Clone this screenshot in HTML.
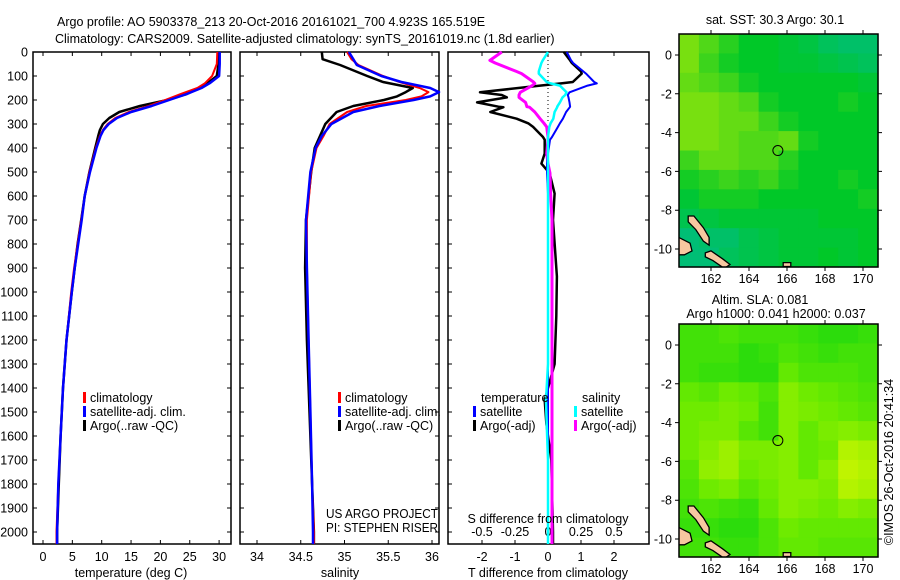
<!DOCTYPE html>
<html><head><meta charset="utf-8">
<style>
html,body{margin:0;padding:0;background:#fff;}
svg{display:block;font-family:"Liberation Sans",sans-serif;}
text{font-size:12.5px;fill:#000;}
</style></head>
<body>
<svg id="fig" width="900" height="580" viewBox="0 0 900 580" xmlns="http://www.w3.org/2000/svg">
<defs>
<clipPath id="c1"><rect x="679" y="34" width="199" height="233"/></clipPath>
<clipPath id="c2"><rect x="679" y="324" width="199" height="233"/></clipPath>
</defs>
<text x="57" y="26">Argo profile: AO 5903378_213 20-Oct-2016 20161021_700 4.923S 165.519E</text>
<text x="55" y="43">Climatology: CARS2009. Satellite-adjusted climatology: synTS_20161019.nc (1.8d earlier)</text>
<g id="g1"></g>
<g id="g2"></g>
<g id="g3"></g>
<g id="m1"></g>
<g id="m2"></g>
<text transform="translate(893,462) rotate(-90)" text-anchor="middle">©IMOS 26-Oct-2016 20:41:34</text>
</svg>
<script>
// ---- data ----
const depthTicks=[0,100,200,300,400,500,600,700,800,900,1000,1100,1200,1300,1400,1500,1600,1700,1800,1900,2000];
const tempTicks=[0,5,10,15,20,25,30];
const salTicks=[34,34.5,35,35.5,36];
const tdiffTicks=[-2,-1,0,1,2];
const sdiffTicks=[-0.5,-0.25,0,0.25,0.5];
const sdiffTickLabels=["-0.5","-0.25","0","0.25","0.5"];

const tDepth=[0,50,100,130,150,175,200,225,250,275,300,325,350,400,500,600,700,800,900,1000,1200,1400,1600,1800,2000,2050];
const tClim =[29.7,29.6,28.8,27.6,26.3,23.5,20.8,18.0,14.6,12.3,11.0,10.2,9.7,9.0,7.9,7.1,6.5,5.9,5.3,4.8,4.0,3.4,3.0,2.6,2.3,2.3];
const tSat  =[30.1,30.1,30.0,28.4,27.0,24.5,21.5,18.5,15.0,12.6,11.2,10.3,9.8,9.1,8.0,7.1,6.6,6.0,5.4,4.9,4.0,3.4,3.0,2.6,2.4,2.4];
const tArgo =[30.0,29.9,29.6,28.0,26.6,24.5,21.2,16.5,13.0,11.3,10.2,9.7,9.4,8.9,7.9,7.1,6.5,5.9,5.4,4.9,4.0,3.4,3.0,2.7,2.4,2.4];

const sDepth=[0,30,54,100,125,150,167,185,200,225,250,300,350,400,500,700,900,1200,1500,1800,2000,2050];
const sClim =[35.03,35.08,35.16,35.44,35.63,35.86,35.96,35.88,35.70,35.25,35.03,34.83,34.76,34.68,34.62,34.57,34.57,34.59,34.61,34.63,34.65,34.65];
const sSat  =[35.05,35.10,35.14,35.42,35.65,35.98,36.08,35.98,35.79,35.40,35.10,34.85,34.74,34.67,34.61,34.56,34.57,34.59,34.61,34.63,34.64,34.64];
const sArgo =[34.74,34.75,34.95,35.26,35.44,35.78,35.70,35.60,35.45,35.10,34.91,34.78,34.72,34.66,34.62,34.56,34.55,34.57,34.60,34.63,34.65,34.65];

const dDepth=[0,35,46,81,90,125,131,140,168,179,189,210,228,230,250,278,297,312,354,366,423,465,505,590,700,935,1100,1300,1450,1550,1700,2000,2050];
const dTSat =[0.57,0.70,0.76,1.07,1.15,1.40,1.48,1.2,0.65,0.6,0.62,0.65,0.67,0.66,0.55,0.45,0.36,0.30,0.12,0.06,0.0,-0.03,-0.03,0.0,0.0,0.0,0.0,0.0,0.0,0.0,0.0,0.0,0.0];
const dTArgo=[0.48,0.67,0.72,1.00,1.02,0.75,0.40,-0.24,-2.06,-1.4,-1.25,-2.15,-1.5,-1.35,-1.75,-0.95,-0.6,-0.45,-0.15,-0.1,-0.1,-0.2,0.05,0.2,0.15,0.27,0.25,0.2,-0.1,-0.05,0.1,0.15,0.15];
const dSSat =[0.0,-0.04,-0.05,-0.07,-0.07,-0.01,0.02,0.09,0.14,0.13,0.11,0.09,0.07,0.07,0.05,0.04,0.02,0.01,0.0,0.0,0.0,0.0,0.0,0.0,0.0,0.0,0.0,0.0,-0.015,-0.01,0.0,0.0,0.0];
const dSArgo=[-0.35,-0.44,-0.40,-0.24,-0.20,-0.11,-0.10,-0.12,-0.21,-0.22,-0.22,-0.17,-0.16,-0.14,-0.10,-0.06,-0.03,-0.01,0.0,0.0,-0.01,0.0,0.015,0.02,0.03,0.03,0.03,0.03,0.03,0.03,0.03,0.03,0.03];

const mapLats=[0,-2,-4,-6,-8,-10];
const mapLons=[162,164,166,168,170];
const sstGrid=[
[0.8,0.7,0.6,0.5,0.5,0.45,0.4,0.3,0.25,0.25],
[0.8,0.65,0.55,0.5,0.5,0.45,0.45,0.4,0.35,0.3],
[0.75,0.7,0.65,0.55,0.5,0.5,0.5,0.5,0.5,0.45],
[0.8,0.8,0.75,0.7,0.55,0.5,0.5,0.5,0.55,0.5],
[0.8,0.8,0.75,0.75,0.65,0.55,0.5,0.5,0.5,0.5],
[0.8,0.8,0.75,0.7,0.7,0.75,0.55,0.5,0.5,0.5],
[0.65,0.75,0.75,0.7,0.7,0.6,0.5,0.5,0.5,0.5],
[0.55,0.6,0.65,0.6,0.65,0.55,0.5,0.5,0.55,0.5],
[0.45,0.55,0.55,0.55,0.5,0.5,0.5,0.5,0.5,0.55],
[0.35,0.4,0.45,0.45,0.45,0.45,0.45,0.5,0.5,0.5],
[0.2,0.25,0.25,0.35,0.4,0.45,0.45,0.45,0.45,0.5],
[0.2,0.2,0.3,0.35,0.4,0.45,0.45,0.5,0.45,0.5]];
const slaGrid=[
[0.3,0.3,0.35,0.3,0.3,0.3,0.25,0.2,0.2,0.25],
[0.3,0.3,0.3,0.2,0.25,0.35,0.3,0.25,0.3,0.3],
[0.3,0.25,0.25,0.2,0.2,0.45,0.35,0.35,0.35,0.3],
[0.45,0.4,0.5,0.45,0.35,0.6,0.5,0.45,0.4,0.35],
[0.5,0.5,0.55,0.5,0.3,0.6,0.55,0.5,0.45,0.4],
[0.5,0.55,0.55,0.4,0.3,0.6,0.45,0.55,0.6,0.55],
[0.5,0.6,0.7,0.55,0.55,0.6,0.45,0.5,0.8,0.75],
[0.4,0.65,0.7,0.5,0.55,0.6,0.45,0.6,0.85,0.8],
[0.35,0.5,0.55,0.4,0.5,0.6,0.6,0.55,0.8,0.75],
[0.3,0.35,0.3,0.25,0.45,0.6,0.55,0.5,0.6,0.55],
[0.25,0.25,0.2,0.2,0.35,0.5,0.45,0.45,0.45,0.45],
[0.3,0.3,0.25,0.25,0.35,0.45,0.45,0.4,0.4,0.4]];
const argoLon=165.519, argoLat=-4.923;

// ---- helpers ----
const NS="http://www.w3.org/2000/svg";
function mk(parent,tag,attrs,txt){const e=document.createElementNS(NS,tag);for(const k in attrs)e.setAttribute(k,attrs[k]);if(txt!==undefined)e.textContent=txt;parent.appendChild(e);return e;}
const TOP=52, BOT=544;
const yD=d=>TOP+d*0.24;

function panel(g,x0,x1,xs,xt,xtl,opts){
  const f=mk(g,'rect',{x:x0,y:TOP,width:x1-x0,height:BOT-TOP,fill:'none',stroke:'#000','stroke-width':1.5});
  
  
  depthTicks.forEach(d=>{
    const y=yD(d);
    const t=mk(g,'path',{d:`M${x0} ${y}h4M${x1} ${y}h-4`,stroke:'#000','stroke-width':1});
    
    
  });
  xt.forEach((v,i)=>{
    const x=xs(v);
    const t=mk(g,'path',{d:`M${x} ${BOT}v-4M${x} ${TOP}v4`,stroke:'#000','stroke-width':1});
    
    
    const l=mk(g,'text',{x:x,y:opts.labY,'text-anchor':'middle'},xtl?xtl[i]:String(v));
    
    
  });
}
function line(g,xs,depths,vals,color,w,name){
  const pts=depths.map((d,i)=>xs(vals[i]).toFixed(1)+','+yD(d).toFixed(1)).join(' ');
  const p=mk(g,'polyline',{points:pts,fill:'none',stroke:color,'stroke-width':w,'stroke-linejoin':'round'});
  
  
}
function legend(g,x,y,color,label,name){
  const r=mk(g,'rect',{x:x,y:y-10,width:3,height:11,fill:color});
  
  
  const t=mk(g,'text',{x:x+7,y:y},label);
  
  
}

// ---- panel 1 ----
const g1=document.getElementById('g1');
const xT=v=>43+v*5.87;
panel(g1,33,231,xT,tempTicks,null,{labY:561});
depthTicks.forEach(d=>{const l=mk(g1,'text',{x:28,y:yD(d)+4.5,'text-anchor':'end'},String(d));
  
  });
line(g1,xT,tDepth,tArgo,'#000',2.5,'temp-argo-line');
line(g1,xT,tDepth,tClim,'#f00',2,'temp-climatology-line');
line(g1,xT,tDepth,tSat,'#00f',2.5,'temp-satellite-line');
legend(g1,83,402,'#f00','climatology','legend-climatology');
legend(g1,83,416,'#00f','satellite-adj. clim.','legend-satellite');
legend(g1,83,430,'#000','Argo(..raw -QC)','legend-argo');
{const t=mk(g1,'text',{x:131,y:577,'text-anchor':'middle'},'temperature (deg C)');
}

// ---- panel 2 ----
const g2=document.getElementById('g2');
const xS=v=>257+(v-34)*87.5;
panel(g2,240,439,xS,salTicks,null,{labY:561});
line(g2,xS,sDepth,sArgo,'#000',2.5,'sal-argo-line');
line(g2,xS,sDepth,sClim,'#f00',2,'sal-climatology-line');
line(g2,xS,sDepth,sSat,'#00f',2.5,'sal-satellite-line');
legend(g2,338,402,'#f00','climatology','legend-climatology');
legend(g2,338,416,'#00f','satellite-adj. clim.','legend-satellite');
legend(g2,338,430,'#000','Argo(..raw -QC)','legend-argo');
{const t=mk(g2,'text',{x:326,y:518,textLength:112,lengthAdjust:'spacingAndGlyphs'},'US ARGO PROJECT');
const u=mk(g2,'text',{x:326,y:532,textLength:112,lengthAdjust:'spacingAndGlyphs'},'PI: STEPHEN RISER');
const w=mk(g2,'text',{x:340,y:577,'text-anchor':'middle'},'salinity');}

// ---- panel 3 ----
const g3=document.getElementById('g3');
const xTd=v=>548+v*33;
const xSd=v=>548+v*132;
panel(g3,448,649,xTd,tdiffTicks,null,{labY:561});
sdiffTicks.forEach((v,i)=>{const l=mk(g3,'text',{x:xSd(v),y:536,'text-anchor':'middle'},sdiffTickLabels[i]);
  });
{const z=mk(g3,'line',{x1:548,y1:TOP,x2:548,y2:yD(300),stroke:'#000','stroke-dasharray':'1 3','stroke-width':1});
}
line(g3,xTd,dDepth,dTArgo,'#000',2.5,'tdiff-argo-line');
line(g3,xSd,dDepth,dSArgo,'#f0f',3,'sdiff-argo-line');
line(g3,xTd,dDepth,dTSat,'#00f',2,'tdiff-satellite-line');
line(g3,xSd,dDepth,dSSat,'#0ff',2.5,'sdiff-satellite-line');
{const t=mk(g3,'text',{x:481,y:402},'temperature');
const s=mk(g3,'text',{x:582,y:402},'salinity');}
legend(g3,473,416,'#00f','satellite','legend-t-satellite');
legend(g3,473,430,'#000','Argo(-adj)','legend-t-argo');
legend(g3,574,416,'#0ff','satellite','legend-s-satellite');
legend(g3,574,430,'#f0f','Argo(-adj)','legend-s-argo');
{const t=mk(g3,'text',{x:548,y:523,'text-anchor':'middle'},'S difference from climatology');
const u=mk(g3,'text',{x:548,y:577,'text-anchor':'middle'},'T difference from climatology');}

// ---- maps ----
function lerp(a,b,t){return a.map((v,i)=>Math.round(v+(b[i]-v)*t));}
function sstColor(v){return v<0.5?lerp([0,184,168],[0,200,40],v/0.5):lerp([0,200,40],[200,240,0],(v-0.5)/0.5);}
function slaColor(v){return v<0.5?lerp([0,210,20],[110,235,0],v/0.5):lerp([110,235,0],[225,248,0],(v-0.5)/0.5);}
const islands=[
[160.8,-8.3,161.1,-8.3,161.6,-8.9,161.9,-9.4,161.9,-9.8,161.6,-9.6,161.2,-9.0,160.8,-8.6],
[160.3,-9.4,160.9,-9.7,161.0,-10.1,160.6,-10.3,160.3,-10.3],
[161.7,-10.2,162.0,-10.1,162.6,-10.5,163.0,-10.8,162.7,-11.0,162.1,-10.6,161.7,-10.4],
[165.8,-10.7,166.2,-10.7,166.2,-10.9,165.8,-10.9]];
function drawMap(g,top,grid,cfun,clip,title1,title2){
  const L=679,R=878,T=top,B=top+233;
  const mx=lon=>711+(lon-162)*19, my=lat=>T+21+(-lat)*19.4;
  const cw=(R-L)/grid[0].length, ch=(B-T)/grid.length;
  grid.forEach((row,r)=>row.forEach((v,c)=>{
    const col=cfun(v);
    const cell=mk(g,'rect',{x:(L+c*cw).toFixed(1),y:(T+r*ch).toFixed(1),width:(cw+0.6).toFixed(1),height:(ch+0.6).toFixed(1),fill:`rgb(${col})`});
    
    
  }));
  const ig=mk(g,'g',{'clip-path':`url(#${clip})`});
  
  
  islands.forEach(p=>{
    let pts=[];for(let i=0;i<p.length;i+=2)pts.push(mx(p[i]).toFixed(1)+','+my(p[i+1]).toFixed(1));
    const s=mk(ig,'polygon',{points:pts.join(' '),fill:'#f7c7a0',stroke:'#000','stroke-width':1.3});
    
    
  });
  const fr=mk(g,'rect',{x:L,y:T,width:R-L,height:B-T,fill:'none',stroke:'#000','stroke-width':1.5});
  
  mapLats.forEach(la=>{const y=my(la);
    const t=mk(g,'path',{d:`M${L} ${y}h-4M${R} ${y}h4`,stroke:'#000'});
    
    const l=mk(g,'text',{x:672,y:y+4.5,'text-anchor':'end'},String(la));
    });
  mapLons.forEach(lo=>{const x=mx(lo);
    const t=mk(g,'path',{d:`M${x} ${T}v-4M${x} ${B}v4`,stroke:'#000'});
    
    const l=mk(g,'text',{x:x,y:B+16,'text-anchor':'middle'},String(lo));
    });
  const c=mk(g,'circle',{cx:mx(argoLon),cy:my(argoLat),r:5,fill:'none',stroke:'#000','stroke-width':1});
  
  if(title2){
    const a=mk(g,'text',{x:760,y:T-20,'text-anchor':'middle'},title1);
    const b=mk(g,'text',{x:776,y:T-6,'text-anchor':'middle'},title2);
  } else {
    const a=mk(g,'text',{x:775,y:T-10,'text-anchor':'middle'},title1);
  }
}
drawMap(document.getElementById('m1'),34,sstGrid,sstColor,'c1','sat. SST: 30.3 Argo: 30.1');
drawMap(document.getElementById('m2'),324,slaGrid,slaColor,'c2','Altim. SLA: 0.081','Argo h1000: 0.041 h2000: 0.037');
</script>
</body></html>
